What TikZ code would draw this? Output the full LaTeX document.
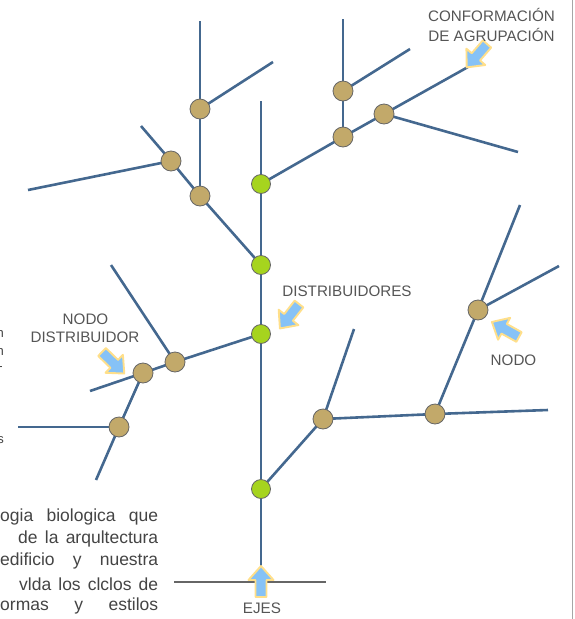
\documentclass[tikz,border=0pt]{standalone}
\usepackage{fontspec}
\setmainfont{Liberation Sans}
\usetikzlibrary{backgrounds}
\definecolor{branch}{HTML}{44688F}
\definecolor{tannode}{HTML}{C2A96A}
\definecolor{limenode}{HTML}{A6D41E}
\definecolor{txt}{HTML}{555555}
\definecolor{ptxt}{HTML}{444444}
\definecolor{arrowfill}{HTML}{86C2F6}
\definecolor{arrowline}{HTML}{FFDF8A}
\begin{document}
\begin{tikzpicture}[x=1pt,y=-1pt,
  br/.style={draw=branch, line width=2.6pt},
  tn/.style={circle, fill=tannode, draw=black!60, line width=0.8pt, minimum size=20pt, inner sep=0pt},
  gn/.style={circle, fill=limenode, draw=black!60, line width=0.8pt, minimum size=19pt, inner sep=0pt},
  lbl/.style={text=txt, font=\fontsize{15.2}{17}\selectfont, inner sep=0pt},
  para/.style={text=ptxt, font=\fontsize{17.5}{20}\selectfont, inner sep=0pt, anchor=west},
  frag/.style={text=ptxt, font=\fontsize{13}{14}\selectfont, inner sep=0pt, anchor=east},
  barrow/.pic={\draw[fill=arrowfill, draw=arrowline, line width=1.9pt, line join=round]
     (0,-5.5) -- (17,-5.5) -- (17,-12.5) -- (31,0) -- (17,12.5) -- (17,5.5) -- (0,5.5) -- cycle;}
]
\useasboundingbox (0,0) rectangle (574,619);
\clip (0,0) rectangle (574,619);

% free-end coordinates
\coordinate (ttop) at (261,101);
\coordinate (tbot) at (261,572);
\coordinate (a1top) at (200,21);
\coordinate (a1br) at (273,62);
\coordinate (a2start) at (141,126);
\coordinate (a2left) at (28,190);
\coordinate (b1top) at (343,19);
\coordinate (b1br) at (410,49);
\coordinate (b3end) at (468,67);
\coordinate (b3br) at (518,152);
\coordinate (c1top) at (111,265);
\coordinate (c2left) at (90,391);
\coordinate (c3left) at (18,427);
\coordinate (c3bot) at (96,480);
\coordinate (d1top) at (354,329);
\coordinate (d2right) at (548,410);
\coordinate (d3top) at (520,205);
\coordinate (d3br) at (559,266);
\coordinate (gl) at (174,582);
\coordinate (gr) at (326,582);
\coordinate (bt) at (572,0);
\coordinate (bb) at (572,619);

% nodes
\node[gn] (g1) at (261,184) {};
\node[gn] (g2) at (261,265) {};
\node[gn] (g3) at (261,334) {};
\node[gn] (g4) at (261,489) {};
\node[tn] (a1) at (200,109) {};
\node[tn] (a2) at (171,161) {};
\node[tn] (a3) at (200,196) {};
\node[tn] (b1) at (343,91) {};
\node[tn] (b2) at (343,137) {};
\node[tn] (b3) at (384,114) {};
\node[tn] (c1) at (175,362) {};
\node[tn] (c2) at (143,373) {};
\node[tn] (c3) at (119,427) {};
\node[tn] (d1) at (323,419) {};
\node[tn] (d2) at (435,414) {};
\node[tn] (d3) at (478,310) {};

\begin{scope}[on background layer]
\draw[gray!70, line width=1pt] (bt) -- (bb);
\draw[gray!80!black, line width=1.2pt] (gl) -- (gr);
\draw[br] (ttop) -- (g1.center) -- (g2.center) -- (g3.center) -- (g4.center) -- (tbot);
\draw[br] (a1top) -- (a1.center) -- (a3.center);
\draw[br] (a1.center) -- (a1br);
\draw[br] (a2start) -- (a2.center) -- (a3.center) -- (g2.center);
\draw[br] (a2left) -- (a2.center);
\draw[br] (g1.center) -- (b2.center) -- (b3.center) -- (b3end);
\draw[br] (b1top) -- (b1.center) -- (b2.center);
\draw[br] (b1.center) -- (b1br);
\draw[br] (b3.center) -- (b3br);
\draw[br] (g3.center) -- (c1.center) -- (c2.center) -- (c2left);
\draw[br] (c1top) -- (c1.center);
\draw[br] (c2.center) -- (c3.center) -- (c3bot);
\draw[br] (c3left) -- (c3.center);
\draw[br] (g4.center) -- (d1.center) -- (d2.center) -- (d2right);
\draw[br] (d1.center) -- (d1top);
\draw[br] (d2.center) -- (d3.center) -- (d3top);
\draw[br] (d3.center) -- (d3br);
\end{scope}

% arrows
\pic[rotate=229] at (487,44) {barrow};
\pic[rotate=232] at (299,304) {barrow};
\pic[rotate=316] at (102,352) {barrow};
\pic[rotate=151] at (519,337) {barrow};
\pic[rotate=90] at (261,597) {barrow};

% labels
\node[lbl] (l1) at (491.5,15) {CONFORMACIÓN};
\node[lbl] (l2) at (491.5,35) {DE AGRUPACIÓN};
\node[lbl] (l3) at (347,291) {DISTRIBUIDORES};
\node[lbl] (l4) at (85.5,319) {NODO};
\node[lbl] (l5) at (85,337) {DISTRIBUIDOR};
\node[lbl] (l6) at (513.5,360) {NODO};
\node[lbl] (l7) at (262,608) {EJES};

% paragraph fragments
\node[para] (p1) at (0,517) {\makebox[158pt][s]{ogia biologica que}};
\node[para] (p2) at (18,539) {\makebox[140pt][s]{de la arqultectura}};
\node[para] (p3) at (0,561) {\makebox[158pt][s]{edificio y nuestra}};
\node[para] (p4) at (19,584) {\makebox[139pt][s]{vlda los clclos de}};
\node[para] (p5) at (0,606) {\makebox[158pt][s]{ormas y estilos}};

% cut-off fragments at left edge
\node[frag] (f1) at (4,334) {n};
\node[frag] (f2) at (4,352) {n};
\node[frag] (f3) at (3,369) {-};
\node[frag] (f4) at (4,440) {s};
\end{tikzpicture}
\end{document}
